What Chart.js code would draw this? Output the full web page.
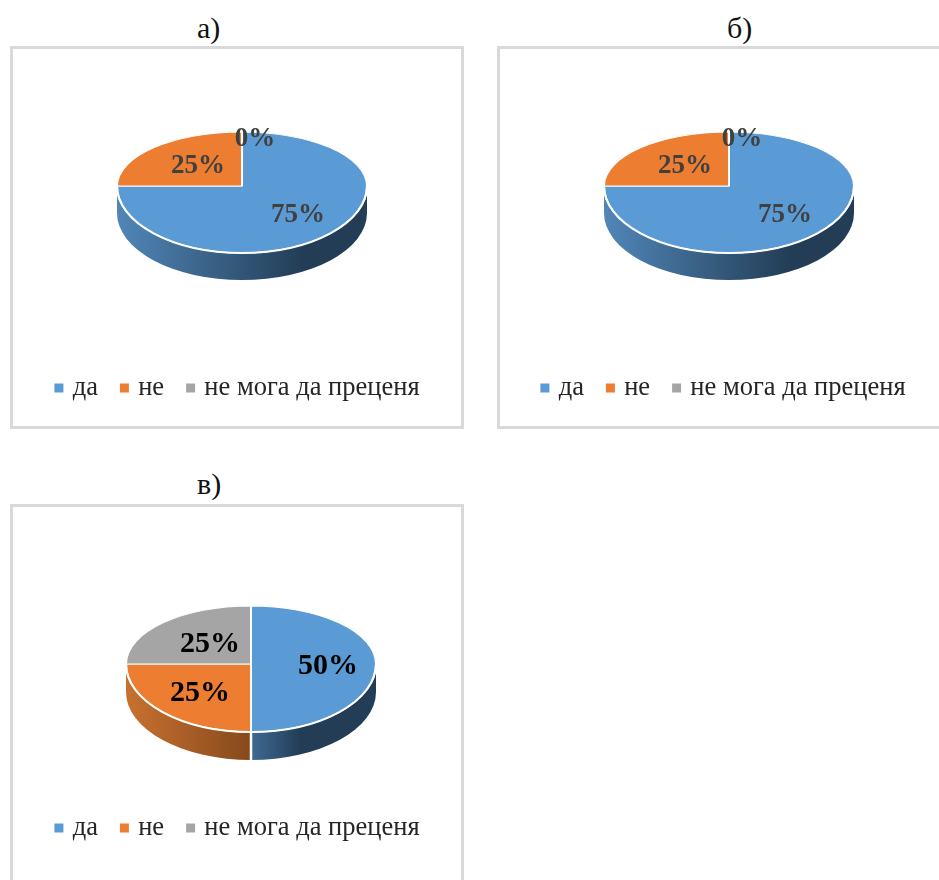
<!DOCTYPE html>
<html>
<head>
<meta charset="utf-8">
<script src="https://cdn.jsdelivr.net/npm/chart.js@4/dist/chart.umd.min.js"></script>
<style>
    html, body { margin: 0; padding: 0; background: #fff; width: 939px; height: 880px; overflow: hidden; }
    .box { position: absolute; box-sizing: border-box; border: 3px solid #d9d9d9; }
    canvas { position: absolute; display: block; }
    .cap { position: absolute; font: 30px "Liberation Serif", serif; color: #111; }
</style>
</head>
<body>
<div class="cap" style="left:197px;top:11px">а)</div>
<div class="cap" style="left:727px;top:11px">б)</div>
<div class="cap" style="left:197px;top:467px">в)</div>
<script>
const categories = ['да', 'не', 'не мога да преценя'];
const valuesA = [75, 25, 0];
const valuesB = [75, 25, 0];
const valuesC = [50, 25, 25];

const topColors = ['#5b9bd5', '#ed7d31', '#a5a5a5'];
// side wall shades for the slices, light end then dark end
const sideColors = [['#5186b8', '#223d55'], ['#c87130', '#86491c'], ['#8a8a8a', '#555555']];

function drawSide(ctx, arc, g, index) {
    const from = Math.max(arc.startAngle, 0);
    const to = Math.min(arc.endAngle, Math.PI);
    if (to <= from) return;

    const r = g.r;
    const yLow = g.low / r;
    const x0 = arc.x + r * Math.cos(to);
    const x1 = arc.x + r * Math.cos(from);
    const grad = ctx.createLinearGradient(x0, 0, x1, 0);
    const split = g.sideSplit[index];
    grad.addColorStop(0, g.sideStart[index] || sideColors[index][0]);
    grad.addColorStop(split, sideColors[index][1]);
    grad.addColorStop(1, sideColors[index][1]);

    ctx.save();
    ctx.beginPath();
    ctx.ellipse(arc.x, arc.y, r, r * yLow, 0, from, to);
    ctx.ellipse(arc.x, arc.y + g.depth, r, r * yLow, 0, to, from, true);
    ctx.closePath();
    ctx.fillStyle = grad;
    ctx.fill();

    // white seam where a slice wall starts inside the visible half
    if (from > 0) {
        const sx = arc.x + r * Math.cos(from);
        const sy = arc.y + r * yLow * Math.sin(from);
        ctx.beginPath();
        ctx.moveTo(sx, sy);
        ctx.lineTo(sx, sy + g.depth);
        ctx.strokeStyle = '#fff';
        ctx.lineWidth = 2.5;
        ctx.stroke();
    }
    ctx.restore();
}

function drawFlat(ctx, chart, arcs, g, upper) {
    const scaleY = (upper ? g.up : g.low) / g.r;
    const cx = arcs[0].x;
    const cy = arcs[0].y;

    ctx.save();
    ctx.beginPath();
    if (upper) ctx.rect(0, 0, chart.width, cy);
    else ctx.rect(0, cy, chart.width, chart.height - cy);
    ctx.clip();
    ctx.translate(cx, cy);
    ctx.scale(1, scaleY);
    ctx.translate(-cx, -cy);
    arcs.forEach(arc => {
        if (arc.circumference > 0) arc.draw(ctx);
    });
    ctx.restore();
}

const pie3d = {
    id: 'pie3d',
    afterLayout(chart) {
        const g = chart.options.plugins.pie3d.geom;
        const half = g.r + 1;
        const a = chart.chartArea;
        a.left = g.cx - half;
        a.right = g.cx + half;
        a.top = g.cy - half;
        a.bottom = g.cy + half;
        a.width = half * 2;
        a.height = half * 2;

        const lg = chart.legend;
        const h = lg.bottom - lg.top;
        lg.top = g.legendY - h / 2;
        lg.bottom = lg.top + h;
        lg.left += g.legendDx;
        lg.right += g.legendDx;
    },
    beforeDatasetDraw(chart, args) {
        const g = chart.options.plugins.pie3d.geom;
        const ctx = chart.ctx;
        const arcs = chart.getDatasetMeta(args.index).data;

        arcs.forEach((arc, i) => {
            if (arc.circumference > 0) drawSide(ctx, arc, g, i);
        });
        drawFlat(ctx, chart, arcs, g, true);
        drawFlat(ctx, chart, arcs, g, false);

        // bright rim along the front edge
        ctx.save();
        ctx.beginPath();
        ctx.ellipse(arcs[0].x, arcs[0].y, g.r, g.low, 0, 0, Math.PI);
        ctx.strokeStyle = '#fff';
        ctx.lineWidth = 2;
        ctx.stroke();
        ctx.restore();
        return false;
    },
    afterDatasetsDraw(chart) {
        const g = chart.options.plugins.pie3d.geom;
        const ctx = chart.ctx;
        const meta = chart.getDatasetMeta(0);
        const data = chart.data.datasets[0].data;

        ctx.save();
        ctx.font = 'bold ' + g.labelSize + 'px "Liberation Serif", serif';
        ctx.fillStyle = g.labelColor;
        ctx.textAlign = 'center';
        ctx.textBaseline = 'middle';
        data.forEach((v, i) => {
            const spot = g.spots[i];
            ctx.fillText(v + '%', meta.data[i].x + spot[0], meta.data[i].y + spot[1]);
        });
        ctx.restore();
    }
};

function makePanel(left, top, width, height, values, geom) {
    const box = document.createElement('div');
    box.className = 'box';
    box.style.cssText = `left:${left}px;top:${top}px;width:${width}px;height:${height}px`;
    document.body.appendChild(box);

    const canvas = document.createElement('canvas');
    canvas.width = width;
    canvas.height = height;
    canvas.style.cssText = `left:${left}px;top:${top}px;width:${width}px;height:${height}px`;
    document.body.appendChild(canvas);

    return new Chart(canvas.getContext('2d'), {
        type: 'pie',
        data: {
            labels: categories,
            datasets: [{
                data: values,
                backgroundColor: topColors,
                borderColor: '#fff',
                borderWidth: 2,
                hoverOffset: 0
            }]
        },
        options: {
            responsive: false,
            animation: false,
            devicePixelRatio: 1,
            plugins: {
                tooltip: { enabled: false },
                pie3d: { geom: geom },
                legend: {
                    position: 'bottom',
                    labels: {
                        color: '#262626',
                        font: { family: '"Liberation Serif", serif', size: 26.5 },
                        usePointStyle: true,
                        pointStyle: 'rect',
                        boxWidth: 1,
                        boxHeight: 11,
                        padding: 26
                    }
                }
            }
        },
        plugins: [pie3d]
    });
}

const flatSpots = [[56, 29], [-44, -20], [13, -47]];

// first chart
makePanel(10, 46, 454, 383, valuesA, {
    cx: 232, cy: 140, r: 125, up: 54, low: 67, depth: 27,
    sideSplit: [0.75, 1, 1], sideStart: [],
    labelSize: 27, labelColor: '#404040',
    spots: flatSpots, legendY: 334, legendDx: 2
});

// second chart, runs off the right edge of the page
makePanel(497, 46, 454, 383, valuesB, {
    cx: 232, cy: 140, r: 125, up: 54, low: 67, depth: 27,
    sideSplit: [0.75, 1, 1], sideStart: [],
    labelSize: 27, labelColor: '#404040',
    spots: flatSpots, legendY: 334, legendDx: 1
});

// third chart, runs off the bottom of the page
makePanel(10, 504, 454, 400, valuesC, {
    cx: 241, cy: 160, r: 125, up: 58, low: 68, depth: 28,
    sideSplit: [0.4, 1, 1], sideStart: ['#3f6a94'],
    labelSize: 30, labelColor: '#000',
    spots: [[77, 2], [-51, 29], [-41, -20]], legendY: 316, legendDx: 2
});
</script>
</body>
</html>
